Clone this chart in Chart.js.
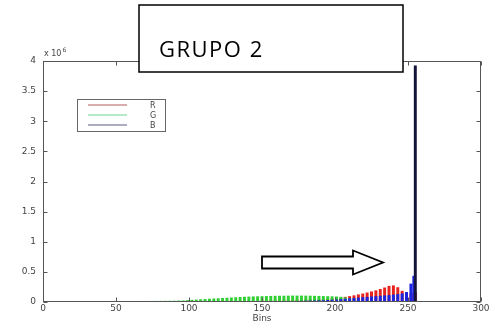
<!DOCTYPE html>
<html>
<head>
<meta charset="utf-8">
<script src="https://cdn.jsdelivr.net/npm/chart.js@4.4.0/dist/chart.umd.min.js"></script>
<style>
  html, body { margin: 0; padding: 0; background: #fff; }
  #wrap { width: 495px; height: 330px; position: relative; }
</style>
</head>
<body>
<div id="wrap"><canvas id="histRGB"></canvas></div>
<script>
// histogram bins (pixel intensity) and counts in millions (x 10^6)
var bins = [51, 54, 57, 60, 63, 66, 69, 72, 75, 78,
  81, 84, 87, 90, 93, 96, 99, 102, 105, 108,
  111, 114, 117, 120, 123, 126, 129, 132, 135, 138,
  141, 144, 147, 150, 153, 156, 159, 162, 165, 168,
  171, 174, 177, 180, 183, 186, 189, 192, 195, 198,
  201, 204, 207, 210, 213, 216, 219, 222, 225, 228,
  231, 234, 237, 240, 243, 246, 249, 252, 254, 255];

var redCounts = [0, 0, 0, 0, 0, 0, 0, 0, 0, 0,
  0, 0, 0, 0, 0.001, 0.001, 0.002, 0.002, 0.003, 0.003,
  0.004, 0.005, 0.005, 0.006, 0.007, 0.008, 0.009, 0.010, 0.011, 0.012,
  0.013, 0.014, 0.015, 0.017, 0.018, 0.020, 0.022, 0.024, 0.026, 0.028,
  0.030, 0.032, 0.034, 0.036, 0.038, 0.040, 0.042, 0.045, 0.048, 0.052,
  0.058, 0.068, 0.080, 0.092, 0.105, 0.120, 0.135, 0.152, 0.170, 0.188,
  0.210, 0.235, 0.262, 0.270, 0.240, 0.180, 0.150, 0.140, 0.150, 0.160];

var greenCounts = [0.010, 0.010, 0.010, 0.011, 0.011, 0.011, 0.012, 0.012, 0.012, 0.013,
  0.013, 0.014, 0.015, 0.016, 0.018, 0.021, 0.025, 0.030, 0.035, 0.040,
  0.045, 0.049, 0.053, 0.057, 0.061, 0.065, 0.069, 0.073, 0.077, 0.081,
  0.084, 0.087, 0.089, 0.091, 0.093, 0.095, 0.097, 0.098, 0.099, 0.100,
  0.101, 0.101, 0.101, 0.100, 0.099, 0.097, 0.095, 0.093, 0.091, 0.089,
  0.086, 0.080, 0.070, 0.055, 0.040, 0.030, 0.020, 0.015, 0.010, 0.008,
  0.006, 0.005, 0.004, 0.003, 0.003, 0.002, 0.002, 0.002, 0.002, 0.002];

var blueCounts = [0, 0, 0, 0, 0, 0, 0, 0, 0, 0,
  0, 0, 0, 0, 0, 0, 0, 0, 0, 0,
  0, 0, 0, 0.001, 0.001, 0.001, 0.002, 0.002, 0.002, 0.003,
  0.003, 0.004, 0.004, 0.005, 0.005, 0.006, 0.007, 0.008, 0.009, 0.010,
  0.011, 0.012, 0.014, 0.016, 0.018, 0.020, 0.022, 0.025, 0.028, 0.032,
  0.036, 0.042, 0.048, 0.055, 0.062, 0.068, 0.074, 0.080, 0.086, 0.092,
  0.098, 0.104, 0.110, 0.118, 0.126, 0.138, 0.160, 0.300, 0.430, 3.920];

var seriesNames = ['R', 'G', 'B'];
var xTicks = [0, 50, 100, 150, 200, 250, 300];
var yTicks = [0, 0.5, 1, 1.5, 2, 2.5, 3, 3.5, 4];
var annotationText = 'GRUPO 2';

var tickFont = { family: 'DejaVu Sans', size: 9 };
var tickColor = '#444';

function toPoints(vals) {
  return bins.map(function (b, i) { return { x: b, y: vals[i] }; });
}

// matlab style box, inner ticks, exponent, legend and the pasted annotation
var decorations = {
  id: 'decorations',
  afterDraw: function (chart) {
    var c = chart.ctx;
    var ca = chart.chartArea;
    var xs = chart.scales.x, ys = chart.scales.y;
    var L = Math.round(ca.left) + 0.5, R = Math.round(ca.right) - 0.5;
    var T = Math.round(ca.top) + 0.5, B = Math.round(ca.bottom) - 0.5;
    c.save();

    c.strokeStyle = '#555';
    c.lineWidth = 1;
    c.strokeRect(L, T, R - L, B - T);

    c.beginPath();
    xTicks.forEach(function (v) {
      var px = Math.round(xs.getPixelForValue(v)) + 0.5;
      c.moveTo(px, B); c.lineTo(px, B - 4);
      c.moveTo(px, T); c.lineTo(px, T + 4);
    });
    yTicks.forEach(function (v) {
      var py = Math.round(ys.getPixelForValue(v)) + 0.5;
      c.moveTo(L, py); c.lineTo(L + 4, py);
      c.moveTo(R, py); c.lineTo(R - 4, py);
    });
    c.stroke();

    // x 10^6
    c.fillStyle = tickColor;
    c.textBaseline = 'alphabetic';
    c.textAlign = 'left';
    c.font = '8px "DejaVu Sans"';
    c.fillText('x 10', 44, 56);
    var w = c.measureText('x 10').width;
    c.font = '6px "DejaVu Sans"';
    c.fillText('6', 45 + w, 52);

    // legend
    c.fillStyle = '#fff';
    c.fillRect(77.5, 99.5, 88, 32);
    c.strokeStyle = '#666';
    c.strokeRect(77.5, 99.5, 88, 32);
    chart.data.datasets.forEach(function (ds, i) {
      var ly = 105 + i * 10;
      c.strokeStyle = ds.borderColor;
      c.lineWidth = 1.2;
      c.beginPath();
      c.moveTo(88, ly); c.lineTo(127, ly);
      c.stroke();
      c.fillStyle = tickColor;
      c.font = '8px "DejaVu Sans"';
      c.textBaseline = 'middle';
      c.fillText(seriesNames[i], 150, ly + 0.5);
    });

    // text box
    c.fillStyle = '#fff';
    c.fillRect(139, 5, 264, 67);
    c.strokeStyle = '#000';
    c.lineWidth = 1.5;
    c.strokeRect(139, 5, 264, 67);
    c.fillStyle = '#000';
    c.font = '22px "Open Sans"';
    c.textBaseline = 'alphabetic';
    c.letterSpacing = '1.5px';
    c.fillText(annotationText, 159, 57);
    c.letterSpacing = '0px';

    // block arrow
    c.beginPath();
    c.moveTo(262, 256.5);
    c.lineTo(353, 256.5);
    c.lineTo(353, 250.5);
    c.lineTo(383, 262.5);
    c.lineTo(353, 274.5);
    c.lineTo(353, 268.5);
    c.lineTo(262, 268.5);
    c.closePath();
    c.fillStyle = '#fff';
    c.fill();
    c.lineWidth = 1.8;
    c.strokeStyle = '#000';
    c.stroke();

    c.restore();
  }
};

var ctx = document.getElementById('histRGB').getContext('2d');

var histChart = new Chart(ctx, {
  type: 'bar',
  data: {
    datasets: [{
      label: seriesNames[0],
      data: toPoints(redCounts),
      backgroundColor: '#e8221c',
      borderColor: '#b85a5a',
      borderWidth: 0,
      order: 2
    }, {
      label: seriesNames[1],
      data: toPoints(greenCounts),
      backgroundColor: '#30d034',
      borderColor: '#6ad49a',
      borderWidth: 0,
      order: 1
    }, {
      label: seriesNames[2],
      data: toPoints(blueCounts),
      backgroundColor: function (c) {
        var v = c.parsed ? c.parsed.y : 0;
        return v > 1 ? '#14143a' : '#1c24e0';
      },
      borderColor: '#5a5a86',
      borderWidth: 0,
      order: 0
    }]
  },
  options: {
    responsive: true,
    maintainAspectRatio: false,
    animation: false,
    layout: { padding: { top: 61, right: 14, left: 0, bottom: 0 } },
    datasets: { bar: { barThickness: 2.3, grouped: false } },
    plugins: {
      legend: { display: false },
      tooltip: { enabled: false }
    },
    scales: {
      x: {
        type: 'linear',
        min: 0,
        max: 300,
        offset: false,
        grid: { display: false, drawTicks: false },
        border: { display: false },
        ticks: { stepSize: 50, font: tickFont, color: tickColor, padding: 1, maxRotation: 0 },
        title: { display: true, text: 'Bins', font: tickFont, color: tickColor, padding: { top: 0, bottom: 6 } },
        afterFit: function (s) { s.height = 28; }
      },
      y: {
        min: 0,
        max: 4,
        grid: { display: false, drawTicks: false },
        border: { display: false },
        ticks: {
          stepSize: 0.5, font: tickFont, color: tickColor, padding: 7,
          callback: function (v) { return String(v); }
        },
        afterFit: function (s) { s.width = 43; }
      }
    }
  },
  plugins: [decorations]
});
</script>
</body>
</html>
